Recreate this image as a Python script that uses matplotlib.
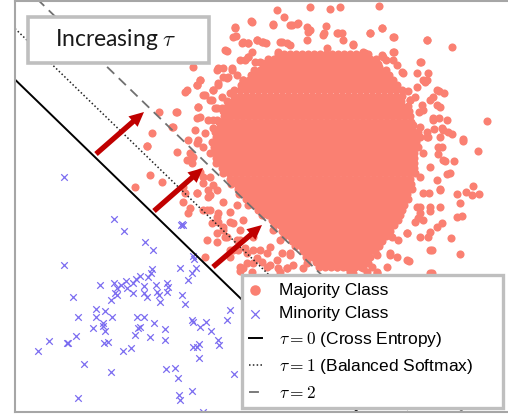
import numpy as np
import matplotlib
matplotlib.use("Agg")
import matplotlib.pyplot as plt
from matplotlib.patches import FancyArrowPatch, Rectangle

plt.rcParams['mathtext.fontset'] = 'cm'

# ---------------- data ----------------
# Minority class (x markers)
minority_x = [6.43, 11.43, 12.37, 18.1, 18.3, 18.2, 14.53, 15.3, 6.43, 19.27, 19.43, 18.0, 19.6,
              19.2, 18.77, 15.2, 15.07, 14.83, 14.0, 13.6, 13.33, 12.6, 12.1, 11.43, 10.0, 11.67,
              11.5, 11.73, 12.67, 13.33, 14.4, 14.4, 14.67, 15.6, 15.67, 15.87, 16.0, 16.67, 16.83,
              16.73, 7.27, 11.07, 9.57, 10.5, 9.57, 11.23, 7.8, 13.67, 14.4, 14.0, 13.83, 15.4,
              18.2, 18.53, 19.2, 19.33, 20.0, 20.6, 21.13, 21.83, 21.93, 23.0, 22.67, 9.33, 10.27,
              10.47, 10.4, 10.83, 10.27, 7.6, 6.67, 6.83, 4.87, 3.77, 8.4, 11.07, 12.27, 13.07,
              13.47, 15.0, 16.5, 16.5, 19.27, 19.87, 19.67, 19.87, 16.57, 17.5, 17.77, 19.17,
              17.93, 18.0, 7.8, 20.27, 23.4]
minority_y = [23.83, 19.57, 18.43, 19.0, 19.0, 19.1, 17.27, 16.47, 15.0, 15.93, 15.57, 14.73, 14.73,
              14.17, 13.5, 14.57, 14.17, 13.83, 13.9, 13.57, 13.17, 13.43, 13.0, 13.23, 12.97, 12.67,
              12.17, 12.0, 12.67, 12.17, 12.9, 12.17, 11.83, 13.0, 12.33, 12.0, 11.33, 13.17, 12.83,
              12.33, 11.83, 11.5, 10.6, 10.4, 9.83, 9.77, 9.83, 9.77, 9.83, 8.83, 8.67, 9.17,
              12.03, 11.07, 9.53, 9.33, 8.83, 9.33, 8.43, 7.5, 7.0, 10.5, 9.5, 8.73, 8.9,
              8.4, 7.2, 7.3, 9.17, 7.87, 7.23, 7.17, 7.4, 6.4, 5.1, 4.33, 6.4, 6.73,
              8.0, 7.83, 8.57, 7.5, 6.77, 7.13, 6.83, 5.73, 4.6, 4.73, 3.7, 2.43,
              2.0, 1.5, 1.73, 0.33, 4.1]

# Majority class: scattered outer points
majority_fringe_x = [27.67, 31.0, 28.4, 25.07, 27.33, 29.0, 29.67, 30.67, 30.83, 23.5, 23.6, 32.6, 32.4,
                     24.23, 24.83, 25.67, 26.17, 26.6, 22.67, 28.0, 28.67, 24.5, 24.83, 21.83, 23.17,
                     26.0, 22.33, 22.83, 20.0, 19.67, 21.33, 21.83, 18.67, 18.5, 20.5, 21.17, 19.83,
                     17.67, 20.0, 21.67, 22.17, 21.33, 22.0, 18.83, 19.83, 17.27, 19.33,
                     15.9, 17.57, 17.17, 15.17, 14.67, 15.0, 16.17, 13.5,
                     37.93, 34.0, 33.0, 37.0, 38.23, 39.4, 42.67, 45.17, 33.83, 34.17, 39.4, 38.17,
                     38.6, 36.5, 35.33, 42.07, 39.67, 40.17, 41.67, 42.83, 42.67, 42.5, 37.93, 36.0,
                     40.77, 43.93, 44.43, 43.33, 43.67, 41.5, 41.0, 42.17, 41.93, 43.33, 43.93, 44.67,
                     48.73, 43.4, 44.17, 44.83, 45.17, 46.33, 42.67, 42.83, 44.0, 41.33, 41.83, 41.67,
                     46.33, 47.77, 45.4, 44.5, 43.83, 44.17, 45.0, 44.67, 47.27, 46.6, 47.17, 47.93,
                     45.67, 44.0, 42.93, 46.0, 44.0, 43.0, 42.0, 45.67, 46.17, 44.17, 43.0, 42.77,
                     45.07, 43.17, 46.0, 40.67, 39.17, 39.83, 38.5, 39.0, 39.67, 40.9, 37.0, 36.83,
                     37.17, 36.33, 35.67, 34.67, 35.33, 37.67, 43.0, 42.0, 41.83, 41.5,
                     14.67, 17.67, 18.27, 18.5, 18.33, 19.0, 18.83, 19.67, 20.83, 21.0, 20.33, 21.0,
                     21.67, 21.83, 20.67, 20.5, 22.33, 22.5, 23.0, 21.67, 24.0, 23.67, 23.83, 24.5,
                     23.0, 23.0, 25.33, 25.67, 26.17, 24.67, 24.33, 26.67, 27.83, 28.67, 27.0, 30.33,
                     29.33, 28.17, 29.0, 31.67, 32.67, 31.0, 31.83, 18.67, 19.17, 19.0, 20.0, 20.33,
                     21.0, 21.33, 24.0, 30.67, 33.67, 37.67, 25.17, 28.0, 35.0, 36.67, 43.17,
                     # band around the dense cloud
                     23.5, 25.17, 27.33, 29.17, 29.83, 23.33, 24.33, 24.83, 25.67, 26.33, 22.5, 25.17,
                     28.17, 29.0, 24.0, 24.83, 25.5, 26.17, 27.0, 27.83, 21.67, 22.33, 23.17, 23.67,
                     22.67, 21.83, 24.33, 20.0, 19.67, 21.33, 20.33, 21.0, 22.17, 23.0, 19.83, 21.5,
                     22.5, 23.33, 19.67, 20.83, 21.67, 22.67, 19.5, 20.5, 21.33, 22.17, 19.67, 20.33,
                     19.33,
                     20.33, 19.67, 20.83, 21.67, 22.33, 20.67, 21.83, 23.0, 23.67, 21.17, 22.33, 23.33,
                     24.33, 22.67, 24.0, 25.33, 21.67, 23.33, 24.67, 26.0, 27.0, 24.0, 25.33, 26.67,
                     27.67, 28.67, 29.0, 28.0, 27.33,
                     39.33, 42.67, 42.0, 42.33, 39.33, 40.33, 41.67, 43.67, 43.0, 41.0, 42.33, 44.0,
                     43.33, 42.0, 44.33, 42.67, 43.83, 42.33, 44.33, 43.0, 42.0, 43.67, 42.33, 44.0,
                     43.0, 41.67, 42.33, 43.67, 40.67, 42.0, 43.0, 39.0, 40.67, 38.67, 37.67,
                     31.0, 32.33, 33.67, 34.33, 35.33, 36.33, 37.0, 38.17, 38.33, 39.33, 32.67, 30.67]
majority_fringe_y = [40.5, 40.83, 39.77, 39.37, 39.07, 39.0, 39.1, 38.83, 38.33, 38.67, 37.9, 38.9, 38.17,
                     37.23, 37.17, 37.5, 37.33, 37.23, 36.43, 37.33, 37.17, 35.5, 35.77, 34.67, 34.67,
                     35.33, 33.83, 33.83, 33.5, 33.0, 32.5, 33.0, 32.5, 32.33, 32.0, 31.5, 30.83,
                     30.33, 29.83, 30.67, 30.67, 29.5, 29.33, 27.5, 27.5, 28.83, 34.83,
                     30.27, 30.33, 28.83, 28.17, 26.93, 24.0, 23.33, 22.83,
                     40.9, 40.77, 40.57, 38.17, 38.67, 37.83, 37.5, 36.83, 38.17, 38.17, 36.33, 36.0,
                     35.5, 36.23, 37.07, 35.33, 35.0, 34.33, 34.17, 34.17, 33.5, 33.33, 34.83, 34.5,
                     32.43, 32.43, 32.17, 31.77, 31.0, 31.83, 31.5, 31.0, 30.33, 29.67, 29.67, 29.5,
                     29.4, 28.57, 28.67, 28.33, 28.07, 27.6, 28.33, 27.83, 27.83, 29.0, 28.33, 27.67,
                     27.43, 26.4, 25.43, 25.43, 26.1, 26.83, 24.17, 24.1, 22.93, 22.33, 22.0, 22.1,
                     22.1, 22.57, 22.17, 21.17, 20.83, 20.4, 20.17, 19.83, 19.9, 19.23, 18.33, 17.83,
                     17.73, 16.5, 16.1, 18.23, 17.77, 17.5, 18.0, 16.0, 15.83, 15.4, 15.77, 15.17,
                     14.83, 14.67, 16.0, 14.77, 14.17, 14.33, 14.23, 20.83, 19.67, 19.33,
                     26.9, 26.33, 22.83, 22.17, 21.33, 20.67, 20.17, 22.17, 22.5, 22.0, 20.5, 20.5,
                     19.83, 19.33, 17.5, 15.83, 18.5, 17.83, 19.33, 18.17, 18.5, 17.5, 16.5, 16.67,
                     16.5, 15.83, 16.5, 15.67, 15.33, 15.17, 14.67, 16.17, 14.67, 14.67, 15.0, 14.67,
                     15.0, 16.17, 16.0, 16.33, 16.17, 17.5, 17.33, 25.5, 25.17, 26.17, 24.33, 23.83,
                     23.83, 23.0, 14.43, 15.17, 14.83, 16.0, 14.33, 14.33, 14.33, 14.33, 14.17,
                     # band around the dense cloud
                     38.83, 39.33, 39.0, 39.0, 39.17, 37.83, 37.33, 37.17, 37.5, 37.33, 36.5, 36.33,
                     37.33, 37.0, 35.5, 35.83, 35.33, 35.17, 35.33, 36.33, 34.5, 34.67, 34.5, 34.0,
                     33.67, 33.17, 33.5, 33.5, 33.0, 32.5, 32.0, 31.5, 31.83, 32.17, 30.83, 30.67,
                     30.67, 31.0, 29.67, 29.5, 29.5, 29.5, 28.5, 28.17, 28.67, 28.5, 27.17, 26.83,
                     25.83,
                     23.17, 22.17, 21.83, 22.5, 21.33, 20.5, 20.17, 20.33, 21.0, 19.17, 18.83, 19.17,
                     19.5, 17.83, 17.5, 17.83, 17.33, 16.5, 16.17, 16.5, 16.83, 14.83, 15.17, 14.83,
                     15.5, 14.67, 16.17, 17.5, 18.5,
                     37.83, 37.5, 35.33, 33.5, 35.5, 34.17, 32.83, 32.5, 31.5, 31.5, 30.5, 30.83,
                     29.5, 28.83, 28.5, 27.83, 26.83, 26.17, 25.5, 24.83, 23.83, 23.5, 22.17, 22.5,
                     20.83, 20.83, 19.5, 18.83, 18.17, 17.83, 16.5, 16.17, 15.5, 14.83, 14.17,
                     38.5, 38.0, 38.17, 37.5, 37.0, 36.33, 38.17, 38.67, 35.83, 36.33, 36.67, 37.5]

# Majority class: dense cloud, horizontal extent of each row
dense_rows_y = [14.8, 16.2, 17.8, 19.5, 21.2, 22.8, 24.5, 26.2, 27.8, 29.5, 31.2, 32.8, 34.5, 36.5]
dense_left = [31.9, 30.2, 28.5, 26.9, 24.6, 23.3, 22.0, 21.0, 21.3, 22.0, 22.6, 23.6, 25.3, 28.0]
dense_right = [36.1, 37.5, 38.8, 40.1, 40.8, 41.4, 41.7, 42.0, 42.0, 41.4, 40.8, 40.1, 38.8, 36.8]

# Decision boundaries: y = intercept + slope * x
tau_values = [0, 1, 2]
boundary_slope = -0.97
boundary_intercepts = [35.0, 40.1, 45.2]
tau_labels = [r'$\tau=0$ (Cross Entropy)', r'$\tau=1$ (Balanced Softmax)', r'$\tau=2$']

# Arrows (start -> end) showing the boundary shift
arrow_start_x = [9.6, 15.4, 21.3]
arrow_start_y = [26.1, 20.4, 14.8]
arrow_end_x = [14.4, 20.3, 26.2]
arrow_end_y = [30.3, 24.7, 19.0]


def fill_region(rows_y, left, right, step):
    xs, ys = [], []
    yy = np.arange(rows_y[0], rows_y[-1] + 1e-9, step * np.sqrt(3) / 2)
    for i, y in enumerate(yy):
        a = np.interp(y, rows_y, left)
        b = np.interp(y, rows_y, right)
        off = step / 2 if i % 2 else 0.0
        row = np.arange(a + off, b + 1e-9, step)
        xs.extend(row)
        ys.extend([y] * len(row))
    return xs, ys


dx, dy = fill_region(dense_rows_y, dense_left, dense_right, 0.6)
maj_x = np.concatenate([majority_fringe_x, dx])
maj_y = np.concatenate([majority_fringe_y, dy])

# ---------------- figure ----------------
W, H = 508, 415
fig = plt.figure(figsize=(W / 100, H / 100), dpi=100)
ax = fig.add_axes([15 / W, 3 / H, 497 / W, 411 / H])
ax.set_xlim(1.5, 51.2)
ax.set_ylim(0.3, 41.4)
ax.set_xticks([])
ax.set_yticks([])
for side in ['left', 'bottom', 'top']:
    ax.spines[side].set_color('#a6a6a6')
    ax.spines[side].set_linewidth(1.5)
ax.spines['right'].set_visible(False)

salmon = '#FA8072'
ax.scatter(maj_x, maj_y, s=34, color=salmon, linewidths=0, zorder=1, label='Majority Class')
ax.scatter(minority_x, minority_y, s=22, marker='x', color='#7B6CF0', linewidths=0.9,
           zorder=1, label='Minority Class')

xl = np.array([1.5, 51.2])
styles = [dict(color='black', ls='-', lw=1.4),
          dict(color='#222222', ls=(0, (1, 1.5)), lw=1.1),
          dict(color='#707070', ls=(0, (5.5, 3.5)), lw=1.3)]
for b, st, lab in zip(boundary_intercepts, styles, tau_labels):
    ax.plot(xl, b + boundary_slope * xl, zorder=2, label=lab, **st)

for x0, y0, x1, y1 in zip(arrow_start_x, arrow_start_y, arrow_end_x, arrow_end_y):
    ax.add_patch(FancyArrowPatch((x0, y0), (x1, y1),
                                 arrowstyle='simple,head_length=1.05,head_width=1.0,tail_width=0.38',
                                 mutation_scale=10, color='#C00000', lw=0,
                                 shrinkA=0, shrinkB=0, zorder=3))

# "Increasing tau" box
ax.add_patch(Rectangle((0.027, 0.848), 0.364, 0.114, transform=ax.transAxes,
                       facecolor='white', edgecolor='#bfbfbf', lw=2.6, zorder=4))
ax.text(0.203, 0.907, r'Increasing $\tau$', transform=ax.transAxes, ha='center', va='center',
        fontsize=16.5, family='Lato', color='#1a1a1a', zorder=5)

leg = ax.legend(loc='lower left', bbox_to_anchor=(0.457, 0.0097, 0.525, 0.3), mode='expand',
                borderaxespad=0,
                prop={'family': 'Liberation Sans', 'size': 12.5},
                frameon=True, fancybox=False, framealpha=1, edgecolor='#bfbfbf',
                handlelength=0.7, handletextpad=1.0, labelspacing=0.49, borderpad=0.42,
                markerscale=1.3)
leg.get_frame().set_linewidth(2.4)
leg.set_zorder(6)

fig.savefig('out.png', dpi=100)
